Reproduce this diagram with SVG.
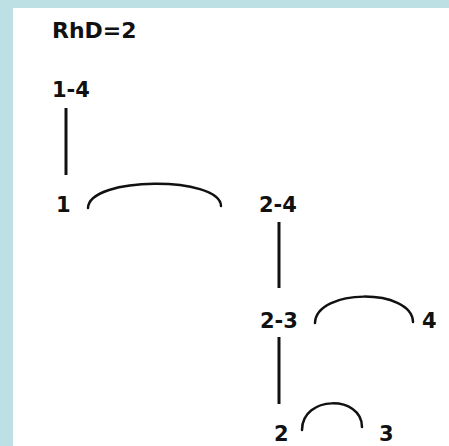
<svg xmlns="http://www.w3.org/2000/svg" width="449" height="446" viewBox="0 0 449 446">
<style>
text{font-family:"DejaVu Sans","Liberation Sans",sans-serif;font-weight:bold;fill:#111;font-size:21px}
.title{font-size:22px}
.ln{stroke:#111;stroke-width:3;fill:none}
.arc{stroke:#111;stroke-width:2.5;fill:none;stroke-linecap:round}
</style>
<rect x="0" y="0" width="449" height="446" fill="#bde0e4"/>
<rect x="13" y="8" width="436" height="438" fill="#ffffff"/>
<g id="title"><text class="title" x="52" y="38">RhD=2</text></g>
<g id="n14"><text x="52" y="97">1-4</text></g>
<g id="n1"><text x="56" y="212">1</text></g>
<g id="n24"><text x="259" y="212">2-4</text></g>
<g id="n23"><text x="260" y="328">2-3</text></g>
<g id="n4"><text x="422" y="328">4</text></g>
<g id="n2"><text x="274" y="441">2</text></g>
<g id="n3"><text x="379" y="441">3</text></g>
<g id="connectors">
<line class="ln" x1="66" y1="108" x2="66" y2="175"/>
<line class="ln" x1="279" y1="222" x2="279" y2="288"/>
<line class="ln" x1="279" y1="337" x2="279" y2="404"/>
<path class="arc" d="M88,208 C89,176 220,176 221,206"/>
<path class="arc" d="M315,323 C316,288 412,288 413,322"/>
<path class="arc" d="M302,430 C302,395 362,395 362,427"/>
</g>
</svg>
